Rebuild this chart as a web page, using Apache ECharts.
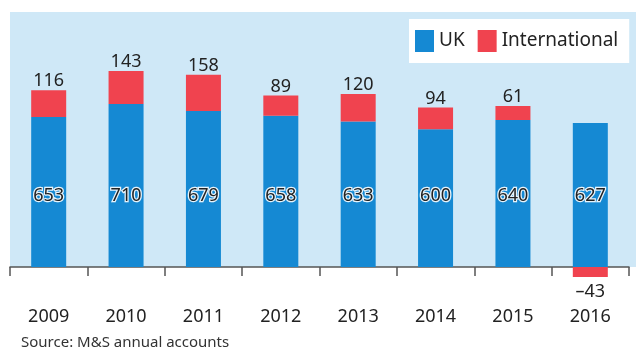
<!DOCTYPE html>
<html>
<head>
<meta charset="utf-8">
<script src="https://cdn.jsdelivr.net/npm/echarts@6/dist/echarts.min.js"></script>
<style>
  body { margin: 0; background: #fff; }
  #chart { width: 636px; height: 351px; }
</style>
</head>
<body>
<div id="chart"></div>
<script>
var years = ["2009", "2010", "2011", "2012", "2013", "2014", "2015", "2016"];
var ukProfit = [653, 710, 679, 658, 633, 600, 640, 627];
var intlProfit = [116, 143, 158, 89, 120, 94, 61, -43];

var FONT = "Noto Sans";
var chart = echarts.init(document.getElementById("chart"));

var intlData = intlProfit.map(function (v) {
  if (v < 0) {
    return {
      value: v,
      label: { position: "bottom", distance: 6, formatter: "\u2013" + Math.abs(v) }
    };
  }
  return v;
});

chart.setOption({
  animation: false,
  textStyle: { fontFamily: FONT },
  graphic: [
    {
      type: "rect",
      z: -10,
      shape: { x: 10, y: 12, width: 626, height: 255 },
      style: { fill: "#cfe8f7" }
    },
    {
      type: "text",
      left: 21,
      top: 335,
      style: {
        text: "Source: M&S annual accounts",
        font: "15px 'Noto Sans'",
        fill: "#333"
      }
    }
  ],
  legend: {
    left: 409,
    top: 19,
    padding: [11, 11, 11, 6],
    backgroundColor: "#ffffff",
    itemWidth: 19,
    itemHeight: 22,
    itemGap: 13,
    icon: "rect",
    textStyle: { fontSize: 19, color: "#222", fontFamily: FONT },
    data: ["UK", "International"]
  },
  grid: { left: 10, right: 7, top: 12, bottom: 72.5 },
  xAxis: {
    type: "category",
    data: years,
    axisLine: { onZero: true, lineStyle: { color: "#555", width: 1.5 } },
    axisTick: { show: true, alignWithLabel: false, length: 9, lineStyle: { color: "#555", width: 1.5 } },
    axisLabel: { margin: 29, fontSize: 18, color: "#222", fontFamily: FONT }
  },
  yAxis: {
    type: "value",
    min: -50,
    max: 1110,
    show: false,
    splitLine: { show: false }
  },
  series: [
    {
      name: "UK",
      type: "bar",
      stack: "profit",
      barWidth: 35,
      data: ukProfit,
      itemStyle: { color: "#1589d3" },
      label: {
        show: true,
        position: "insideBottom",
        distance: 62,
        fontSize: 18,
        color: "#222",
        textBorderColor: "#e6f3fb",
        textBorderWidth: 2.5,
        fontFamily: FONT
      }
    },
    {
      name: "International",
      type: "bar",
      stack: "profit",
      barWidth: 35,
      data: intlData,
      itemStyle: { color: "#f0434f" },
      label: {
        show: true,
        position: "top",
        distance: 0,
        fontSize: 18,
        color: "#222",
        fontFamily: FONT
      }
    }
  ]
});
</script>
</body>
</html>
